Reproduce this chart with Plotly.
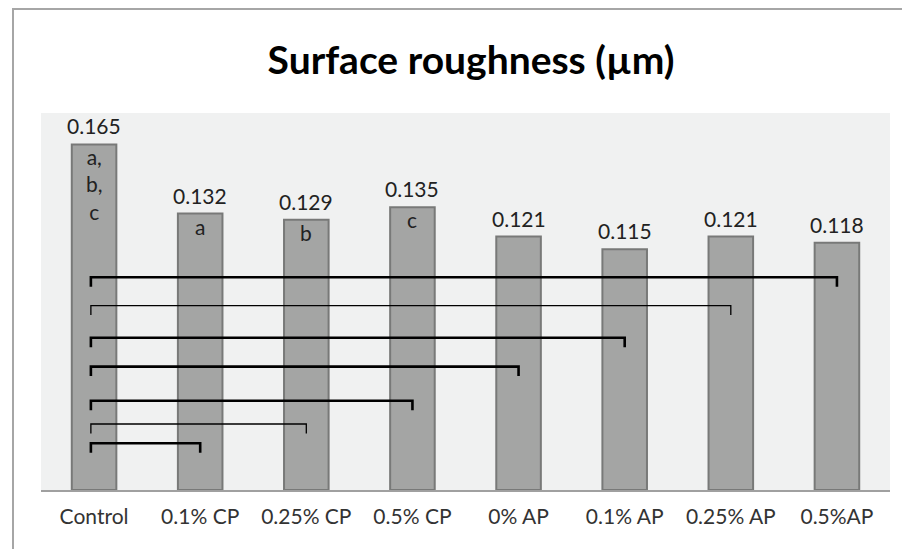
# Surface roughness bar chart with significance brackets
import plotly.graph_objects as go

# Data
categories = ['Control', '0.1% CP', '0.25% CP', '0.5% CP', '0% AP', '0.1% AP', '0.25% AP', '0.5%AP']
roughness = [0.165, 0.132, 0.129, 0.135, 0.121, 0.115, 0.121, 0.118]
value_labels = ['0.165', '0.132', '0.129', '0.135', '0.121', '0.115', '0.121', '0.118']
group_letters = ['a,<br>b,<br>c', 'a', 'b', 'c', '', '', '', '']

# Significance brackets: Control vs each target category, at these heights
bracket_targets = ['0.5%AP', '0.25% AP', '0.1% AP', '0% AP', '0.5% CP', '0.25% CP', '0.1% CP']
bracket_levels = [0.1016, 0.088, 0.0727, 0.0589, 0.0426, 0.0315, 0.0223]
bracket_bold = [True, False, True, True, True, False, True]

FONT = 'Lato'
idx = list(range(len(categories)))

# the page body has an 8px margin, so the layout below is shifted up/left by 8px
PLOT_W, PLOT_H = 849, 377

fig = go.Figure()

fig.add_trace(go.Bar(x=idx,
                     y=roughness,
                     width=0.42,
                     marker=dict(color='#A4A5A4', line=dict(color='#787978', width=2)),
                     hoverinfo='y',
                     showlegend=False))

# Brackets
drop = 0.0045
for target, level, bold in zip(bracket_targets, bracket_levels, bracket_bold):
    xr = categories.index(target)
    xl = -0.03
    fig.add_trace(go.Scatter(x=[xl, xl, xr, xr],
                             y=[level - drop, level, level, level - drop],
                             mode='lines',
                             line=dict(color='black', width=2.6 if bold else 1.3),
                             hoverinfo='skip',
                             showlegend=False))

# Value labels above bars and letters inside bars
for i, (v, lab, let) in enumerate(zip(roughness, value_labels, group_letters)):
    fig.add_annotation(x=i, y=v, text=lab, showarrow=False,
                       yanchor='bottom', yshift=4,
                       font=dict(family=FONT, size=21, color='#222222'))
    if let:
        fig.add_annotation(x=i, y=v, text=let, showarrow=False,
                           yanchor='top', yshift=2,
                           font=dict(family=FONT, size=21, color='#222222'))

# Outer chart frame (cropped on right and bottom)
fig.add_shape(type='rect', xref='paper', yref='paper',
              x0=-28 / PLOT_W, x1=1.2, y0=-0.4, y1=(PLOT_H + 104) / PLOT_H,
              line=dict(color='#A6A6A6', width=2), fillcolor='rgba(0,0,0,0)',
              layer='above')

fig.update_layout(width=910, height=549,
                  margin=dict(l=33, r=28, t=105, b=67, autoexpand=False),
                  paper_bgcolor='white',
                  plot_bgcolor='#F0F1F1',
                  title=dict(text='<b>Surface roughness (µm)</b>',
                             font=dict(family=FONT, size=39, color='black'),
                             x=463 / 910, xanchor='center',
                             y=1 - 52 / 549, yanchor='middle'),
                  xaxis=dict(range=[-0.5, 7.5], tickvals=idx, ticktext=categories,
                             showgrid=False, zeroline=False, ticks='',
                             showline=True, linecolor='#A0A0A0', linewidth=2,
                             tickfont=dict(family=FONT, size=21, color='#333333'),
                             ticklabelstandoff=7,
                             automargin=False, fixedrange=True),
                  yaxis=dict(range=[0, 0.18], visible=False, fixedrange=True),
                  bargap=0.58)

fig.write_html("out.html")
